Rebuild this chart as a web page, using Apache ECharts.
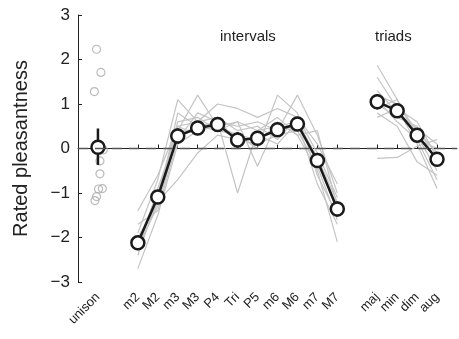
<!DOCTYPE html>
<html>
<head>
<meta charset="utf-8">
<script src="https://cdn.jsdelivr.net/npm/echarts@6/dist/echarts.min.js"></script>
<style>
  html, body { margin: 0; padding: 0; background: #fff; }
  #chart { width: 459px; height: 339px; }
</style>
</head>
<body>
<div id="chart"></div>
<script>
// x slots: blanks are gaps on the axis
var slots = ['', 'unison', '', 'm2', 'M2', 'm3', 'M3', 'P4', 'Tri', 'P5', 'm6', 'M6', 'm7', 'M7', '', 'maj', 'min', 'dim', 'aug', ''];

var intervalNames = ['m2', 'M2', 'm3', 'M3', 'P4', 'Tri', 'P5', 'm6', 'M6', 'm7', 'M7'];
var intervalMean = [-2.12, -1.09, 0.28, 0.46, 0.54, 0.19, 0.23, 0.42, 0.55, -0.27, -1.36];
var intervalErr = [0.15, 0.15, 0.17, 0.15, 0.15, 0.18, 0.15, 0.15, 0.15, 0.17, 0.17];

var triadNames = ['maj', 'min', 'dim', 'aug'];
var triadMean = [1.05, 0.85, 0.30, -0.24];
var triadErr = [0.17, 0.15, 0.15, 0.15];

var unisonMean = 0.03;
var unisonLo = -0.37;
var unisonHi = 0.45;

// individual listeners, unison (x jitter in slot units)
var unisonX = [0.93, 1.15, 0.82, 1.27, 1.10, 1.10, 1.22, 1.03, 0.93, 0.85];
var unisonY = [2.23, 1.71, 1.28, -0.03, -0.28, -0.57, -0.90, -0.91, -1.08, -1.17];

// individual listeners, intervals
var subjIntervals = [
  [-2.7, -1.5, 0.1, 0.4, 0.5, 0.3, 0.2, 0.5, 0.6, -0.2, -1.2],
  [-2.0, -1.2, -0.7, -0.1, 0.3, 0.2, 0.1, 0.3, 0.4, -0.4, -1.6],
  [-1.9, -0.7, 1.1, 0.6, 0.7, 0.4, 0.5, 0.2, 0.7, -0.1, -1.1],
  [-2.3, -0.9, 0.4, 1.2, 0.5, 0.6, -0.4, 0.6, 0.3, -0.5, -2.1],
  [-1.4, -0.6, 0.5, 0.6, 1.0, 0.9, 0.7, 0.9, 0.7, 0.1, -0.8],
  [-2.2, -1.3, 0.3, 0.5, 0.6, -1.0, 0.4, 0.5, 0.5, -0.3, -1.4],
  [-2.4, -1.1, 0.6, 0.7, 0.4, 0.3, 0.0, 1.2, 0.8, -0.6, -1.5],
  [-1.7, -1.4, 0.2, 0.8, 0.6, 0.5, 0.6, 0.4, 1.2, 0.3, -1.0],
  [-2.1, -1.0, 0.5, 0.3, 0.7, 0.1, 0.3, 0.1, 0.6, -0.8, -1.7],
  [-2.3, -1.2, 0.8, 0.5, 0.4, 0.6, 0.4, 0.7, 0.3, 0.4, -1.3]
];

// individual listeners, triads
var subjTriads = [
  [1.87, 1.1, 0.3, -0.5],
  [1.6, 0.9, 0.1, -0.9],
  [-0.22, -0.2, 0.05, 0.2],
  [1.0, 0.7, 0.5, -0.3],
  [1.2, 1.0, 0.4, -0.1],
  [0.9, 1.1, 0.2, 0.0],
  [0.8, 0.5, -0.3, -0.6],
  [1.3, 0.8, 0.45, 0.1],
  [0.7, 0.9, 0.6, -0.2],
  [1.1, 0.6, 0.2, -0.7]
];

var yTicks = [-3, -2, -1, 0, 1, 2, 3];

function pairs(names, vals) {
  return names.map(function (n, i) { return [n, vals[i]]; });
}

var chart = echarts.init(document.getElementById('chart'));
var series = [];

subjIntervals.forEach(function (s) {
  series.push({ type: 'line', data: pairs(intervalNames, s), symbol: 'none', silent: true,
    lineStyle: { color: '#c4c4c4', width: 1.2 }, z: 1 });
});
subjTriads.forEach(function (s) {
  series.push({ type: 'line', data: pairs(triadNames, s), symbol: 'none', silent: true,
    lineStyle: { color: '#c4c4c4', width: 1.2 }, z: 1 });
});

series.push({
  type: 'scatter', xAxisIndex: 1,
  data: unisonX.map(function (x, i) { return [x, unisonY[i]]; }),
  symbol: 'circle', symbolSize: 8,
  itemStyle: { color: 'rgba(255,255,255,0)', borderColor: '#aaaaaa', borderWidth: 1.2 },
  z: 2
});

// zero line
series.push({
  type: 'line', data: [], z: 2,
  markLine: { silent: true, symbol: 'none', label: { show: false },
    lineStyle: { color: '#555', width: 1.3, type: [10, 7] },
    data: [{ yAxis: 0 }] }
});

// error bars
var errData = [['unison', unisonLo, unisonHi]];
intervalNames.forEach(function (n, i) { errData.push([n, intervalMean[i] - intervalErr[i], intervalMean[i] + intervalErr[i]]); });
triadNames.forEach(function (n, i) { errData.push([n, triadMean[i] - triadErr[i], triadMean[i] + triadErr[i]]); });
series.push({
  type: 'custom', z: 3, silent: true,
  data: errData,
  renderItem: function (params, api) {
    var a = api.coord([api.value(0), api.value(1)]);
    var b = api.coord([api.value(0), api.value(2)]);
    return { type: 'line', shape: { x1: a[0], y1: a[1], x2: b[0], y2: b[1] },
      style: { stroke: '#1a1a1a', lineWidth: 2.5 } };
  }
});

var meanStyle = {
  type: 'line', symbol: 'circle', symbolSize: 13, z: 4,
  lineStyle: { color: '#1a1a1a', width: 2.5 },
  itemStyle: { color: '#fff', borderColor: '#1a1a1a', borderWidth: 2.5 }
};
series.push(Object.assign({}, meanStyle, { data: [['unison', unisonMean]] }));
series.push(Object.assign({}, meanStyle, { data: pairs(intervalNames, intervalMean) }));
series.push(Object.assign({}, meanStyle, { data: pairs(triadNames, triadMean) }));

var shown = function (i, v) { return v !== ''; };

var option = {
  animation: false,
  textStyle: { fontFamily: 'Liberation Sans' },
  grid: { left: 78, right: 2, top: 15, bottom: 57 },
  xAxis: [{
    type: 'category', data: slots, boundaryGap: false,
    axisLine: { lineStyle: { color: '#222', width: 1 } },
    axisTick: { inside: true, length: 4, interval: shown, lineStyle: { color: '#222' } },
    axisLabel: { interval: shown, rotate: 45, fontSize: 13, color: '#222', margin: 13,
      hideOverlap: false },
    splitLine: { show: false }
  }, {
    type: 'value', min: 0, max: 19, show: false
  }],
  yAxis: {
    type: 'value', min: yTicks[0], max: yTicks[yTicks.length - 1], interval: 1,
    name: 'Rated pleasantness', nameLocation: 'middle', nameGap: 47,
    nameTextStyle: { fontSize: 20, color: '#222' },
    axisLine: { show: true, lineStyle: { color: '#222', width: 1 } },
    axisTick: { show: true, inside: true, length: 4, lineStyle: { color: '#222' } },
    axisLabel: { fontSize: 17, color: '#222', margin: 8,
      formatter: function (v) { return String(v).replace('-', '\u2212'); } },
    splitLine: { show: false }
  },
  graphic: [
    { type: 'text', left: 220, top: 29, style: { text: 'intervals', fontSize: 15, fill: '#222', fontFamily: 'Liberation Sans' } },
    { type: 'text', left: 375, top: 29, style: { text: 'triads', fontSize: 15, fill: '#222', fontFamily: 'Liberation Sans' } }
  ],
  series: series
};

chart.setOption(option);
</script>
</body>
</html>
